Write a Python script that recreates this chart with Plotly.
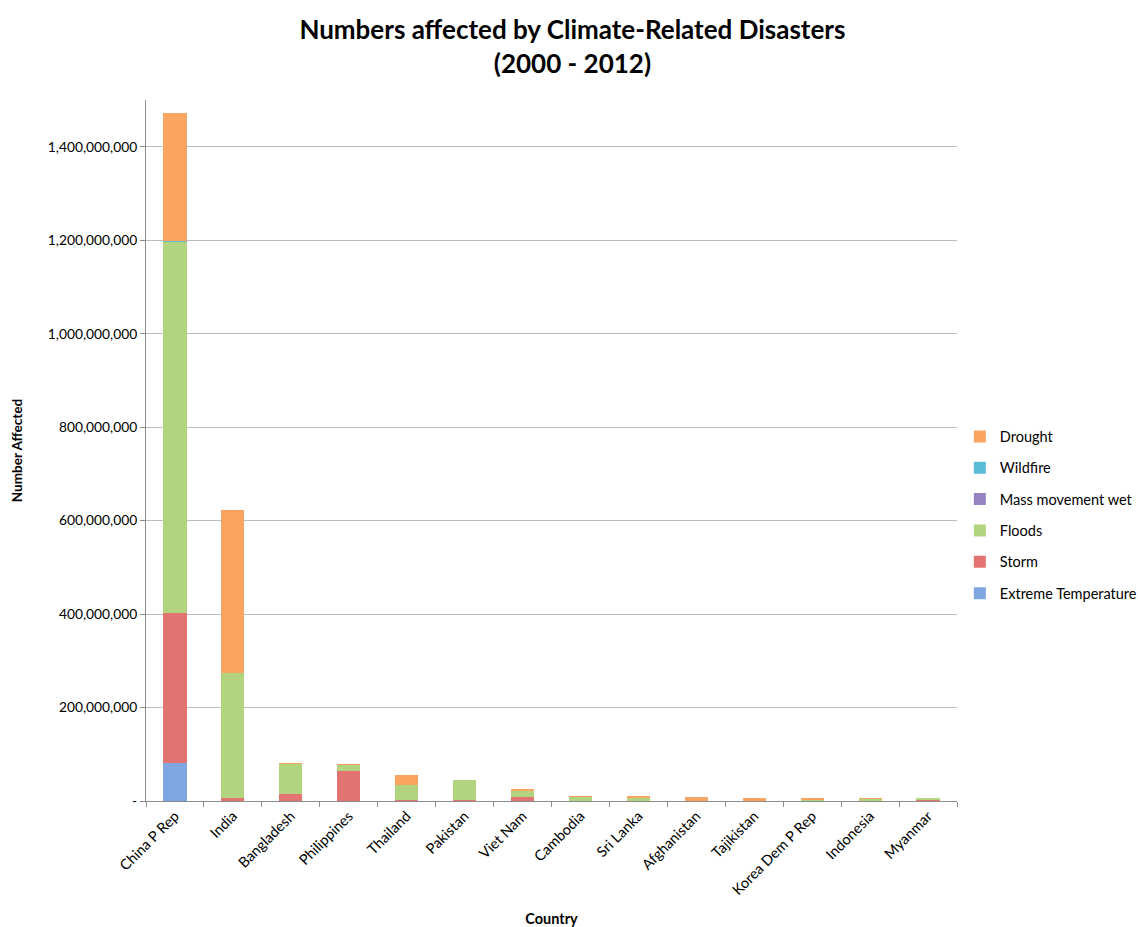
import plotly.graph_objects as go

# Countries, ordered by total number of people affected
countries = ["China P Rep", "India", "Bangladesh", "Philippines", "Thailand", "Pakistan",
             "Viet Nam", "Cambodia", "Sri Lanka", "Afghanistan", "Tajikistan",
             "Korea Dem P Rep", "Indonesia", "Myanmar"]

# People affected per disaster type, in millions (2000 - 2012)
extreme_temperature = [81, 0.5, 0.5, 0, 0, 0.3, 0, 0, 0, 0, 0, 0, 0, 0]
storm = [321, 6, 14, 64, 2, 2, 9, 0.5, 0.5, 0, 0, 1, 0.5, 3]
floods = [796, 267, 66, 14, 32, 43, 14, 9, 7, 1, 2, 2, 5, 1.5]
mass_movement_wet = [0.1, 0, 0, 0, 0, 0, 0, 0, 0, 0, 0, 0, 0, 0]
wildfire = [0.1, 0, 0, 0, 0, 0, 0, 0, 0, 0, 0, 0, 0, 0]
drought = [274, 349, 0.5, 0.3, 21, 0, 1, 0.5, 2, 7, 4, 3, 0.5, 0]

# y-axis ticks in accounting style ("-" for zero)
y_tick_values = [0, 200e6, 400e6, 600e6, 800e6, 1000e6, 1200e6, 1400e6]
y_tick_labels = ["-", "200,000,000", "400,000,000", "600,000,000", "800,000,000",
                 "1,000,000,000", "1,200,000,000", "1,400,000,000"]

# stacked bottom to top; the legend lists them top to bottom in reverse
series = [
    ("Extreme Temperature", extreme_temperature, "#7EA6E0"),
    ("Storm", storm, "#E27371"),
    ("Floods", floods, "#B2D47F"),
    ("Mass movement wet", mass_movement_wet, "#9483C0"),
    ("Wildfire", wildfire, "#5BBCD6"),
    ("Drought", drought, "#F9A461"),
]

FONT = "Lato, 'Open Sans', sans-serif"

fig = go.Figure()
for i, (name, values, color) in enumerate(series):
    fig.add_trace(go.Bar(
        x=countries,
        y=[v * 1e6 for v in values],
        name=name,
        legendgroup=name,
        legendrank=1000 - i,
        marker=dict(color=color, line=dict(width=0)),
    ))

fig.update_layout(
    barmode="stack",
    bargap=0.6,
    width=1138,
    height=927,
    paper_bgcolor="white",
    plot_bgcolor="white",
    font=dict(family=FONT, size=13.5, color="#000000"),
    margin=dict(l=146, r=181, t=100, b=126, autoexpand=False),
    title=dict(
        text="<b>Numbers affected by Climate-Related Disasters<br>(2000 - 2012)</b>",
        x=0.503, xanchor="center", y=0.958, yanchor="top",
        font=dict(family=FONT, size=26, color="#000000"),
    ),
    legend=dict(
        traceorder="grouped",
        x=1.0035, xanchor="left", y=0.408, yanchor="middle",
        font=dict(family=FONT, size=14.5),
        tracegroupgap=9.5,
        itemwidth=30,
        bgcolor="rgba(0,0,0,0)",
    ),
    xaxis=dict(
        title=dict(text="<b>Country</b>", font=dict(family=FONT, size=14.5), standoff=24),
        tickangle=-45,
        tickfont=dict(family=FONT, size=14.5),
        showline=True, linecolor="#8C8C8C", linewidth=1,
        ticks="outside", tickson="boundaries", ticklen=5, tickcolor="#8C8C8C",
        showgrid=False,
    ),
    yaxis=dict(
        title=dict(text="<b>Number Affected</b>", font=dict(family=FONT, size=13.5), standoff=22),
        range=[0, 1500e6],
        tickvals=y_tick_values,
        ticktext=y_tick_labels,
        tickfont=dict(family=FONT, size=13.8),
        showline=True, linecolor="#8C8C8C", linewidth=1,
        ticks="outside", ticklen=5, tickcolor="#8C8C8C",
        showgrid=True, gridcolor="#BDBDBD", gridwidth=1,
        zeroline=False,
    ),
)

fig.write_html("out.html")
